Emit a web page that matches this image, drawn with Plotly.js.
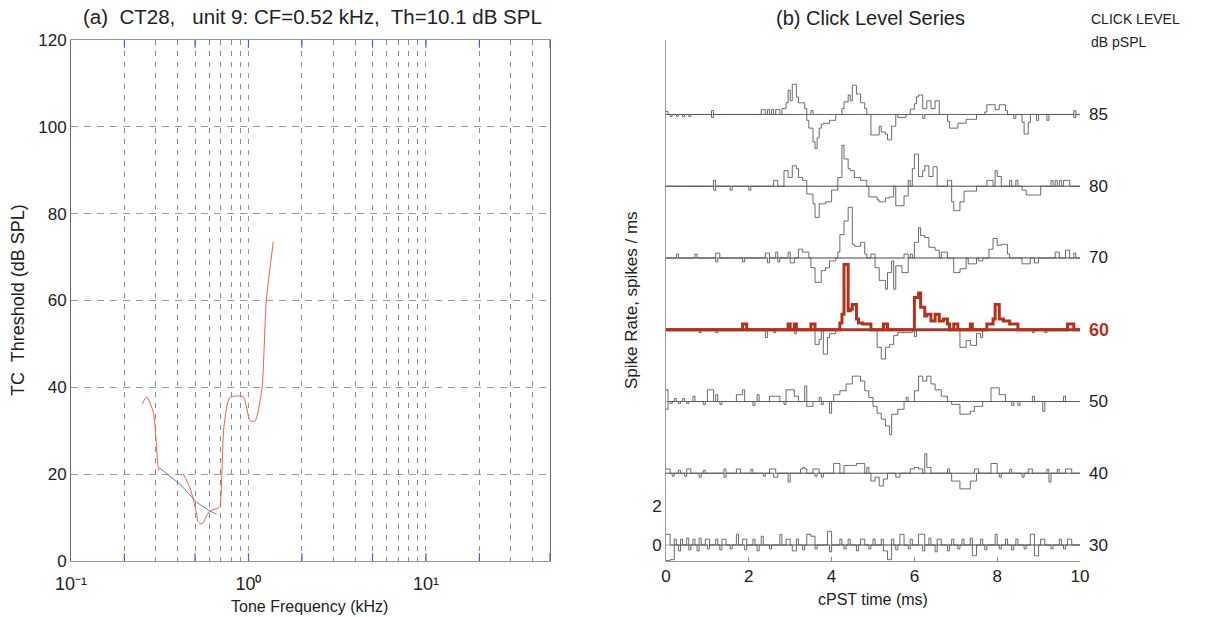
<!DOCTYPE html>
<html>
<head>
<meta charset="utf-8">
<script src="https://cdn.plot.ly/plotly-3.0.1.min.js"></script>
<style>html,body{margin:0;padding:0;background:#fff;}#chart{width:1216px;height:617px;}</style>
</head>
<body>
<div id="chart"></div>
<script>
// ---------- Panel (a): tuning curve ----------
const tcRedFreq1 = [0.252, 0.267, 0.291, 0.310, 0.314];
const tcRedDb1   = [36.2, 37.8, 34.2, 21.5, 20.8];
const tcRedFreq2 = [0.429, 0.468, 0.511, 0.518, 0.535, 0.556, 0.58, 0.606, 0.676, 0.69, 0.727, 0.786, 0.935, 1.02, 1.09, 1.19, 1.26, 1.38];
const tcRedDb2   = [20.1, 16.9, 10.8, 9.2, 8.6, 8.8, 10.4, 11.5, 12.2, 12.5, 30.8, 37.7, 37.8, 32.3, 32.3, 39.6, 60, 73.5];
const tcBlueFreq = [0.314, 0.411, 0.511, 0.606, 0.661];
const tcBlueDb   = [21.5, 17.7, 13.5, 11.5, 10.8];
const freqDecadeVals = [0.1, 1, 10];
const freqDecadeText = ['10\u207B\u00B9', '10\u2070', '10\u00B9'];
const freqMarkVals = [0.2, 0.5, 1, 2, 5, 10, 20, 50];
const dbTickVals = [0, 20, 40, 60, 80, 100, 120];

// ---------- Panel (b): click level series (segments: [t start ms, t end ms, spikes/ms]) ----------
const clickLevels = [30, 40, 50, 60, 70, 80, 85];
const timeTickVals = [0, 2, 4, 6, 8, 10];
const rateTickVals = [0, 2];

const up85 = [[0.0,0.05,0.15],[1.1,1.15,0.2],[2.3,2.4,0.25],[2.45,2.5,0.25],[2.55,2.6,0.25],[2.65,2.75,0.25],[2.8,2.9,0.3],
 [2.9,2.95,0.6],[2.95,3.0,1.25],[3.0,3.05,0.7],[3.05,3.15,1.55],[3.15,3.2,0.9],[3.2,3.35,0.6],[3.35,3.4,0.3],[3.5,3.55,0.2],
 [4.25,4.3,0.3],[4.3,4.4,0.65],[4.4,4.45,1.0],[4.45,4.5,0.7],[4.5,4.6,1.5],[4.6,4.7,1.05],[4.7,4.8,0.6],[4.8,4.85,0.3],
 [5.9,6.0,0.27],[6.0,6.05,0.55],[6.05,6.1,0.9],[6.1,6.2,1.0],[6.2,6.3,0.3],[6.3,6.4,0.7],[6.4,6.5,0.3],[6.5,6.6,0.7],
 [7.7,7.75,0.13],[7.75,7.95,0.5],[7.95,8.05,0.25],[8.05,8.2,0.5],[8.2,8.25,0.2],[9.85,9.9,0.2]];
const dn85 = [[0.1,0.15,0.1],[0.25,0.3,0.1],[0.4,0.45,0.1],[0.55,0.6,0.1],[1.1,1.15,0.15],
 [3.4,3.45,0.3],[3.45,3.55,0.7],[3.55,3.6,1.4],[3.6,3.65,1.75],[3.65,3.7,1.2],[3.7,3.75,0.7],[3.75,3.8,0.5],[3.8,3.95,0.45],[3.95,4.1,0.3],
 [4.95,5.15,1.05],[5.15,5.2,0.6],[5.2,5.3,0.9],[5.3,5.35,1.0],[5.35,5.45,1.3],[5.45,5.55,0.6],[5.6,5.8,0.15],[6.2,6.25,0.2],
 [6.8,6.85,0.35],[6.85,7.05,0.7],[7.05,7.25,0.45],[7.25,7.5,0.25],
 [8.4,8.45,0.2],[8.6,8.65,0.4],[8.65,8.75,1.0],[8.75,8.8,0.4],[8.95,9.0,0.3],[9.2,9.25,0.3],[9.85,9.9,0.15]];

const up80 = [[1.15,1.2,0.3],[2.6,2.7,0.3],[2.85,2.95,0.8],[2.95,3.05,0.45],[3.05,3.15,1.05],[3.15,3.2,0.9],[3.2,3.3,0.45],[3.3,3.4,0.3],
 [4.15,4.25,0.45],[4.25,4.3,2.1],[4.3,4.4,1.4],[4.4,4.45,0.9],[4.45,4.55,0.8],[4.55,4.7,0.45],[4.7,4.85,0.3],[5.85,5.9,0.3],
 [5.95,6.0,0.9],[6.0,6.1,1.65],[6.1,6.2,0.5],[6.2,6.25,0.8],[6.25,6.35,1.05],[6.35,6.45,0.5],[6.45,6.55,1.0],[6.8,6.9,0.3],
 [7.75,7.9,0.3],[7.95,8.0,0.8],[8.0,8.1,0.5],[8.3,8.35,0.3],[8.45,8.5,0.3],[9.3,9.35,0.3],[9.4,9.45,0.3],[9.5,9.55,0.3],[9.6,9.75,0.3]];
const dn80 = [[1.15,1.2,0.2],[1.55,1.6,0.2],[2.0,2.05,0.2],
 [3.4,3.55,0.4],[3.55,3.6,0.9],[3.6,3.7,1.6],[3.7,3.85,0.9],[3.85,4.0,0.8],[4.0,4.15,0.2],
 [4.9,5.1,0.55],[5.1,5.15,0.7],[5.15,5.3,0.8],[5.3,5.4,0.6],[5.4,5.5,0.55],[5.55,5.75,1.0],[5.75,5.85,0.5],
 [6.9,6.95,0.8],[6.95,7.1,1.25],[7.1,7.2,0.8],[7.2,7.5,0.25],[8.6,8.7,0.2],[8.7,9.05,0.45]];

const up70 = [[0.25,0.3,0.2],[0.7,0.75,0.2],[1.2,1.3,0.25],[2.4,2.5,0.25],[2.65,2.7,0.3],[2.95,3.0,0.3],[3.2,3.3,0.45],[3.3,3.45,0.3],
 [4.15,4.2,0.3],[4.2,4.3,1.2],[4.3,4.4,1.9],[4.4,4.5,2.6],[4.5,4.55,0.7],[4.55,4.7,0.6],[4.7,4.8,0.8],[4.8,4.85,0.2],[4.95,5.05,0.2],
 [5.75,5.85,0.2],[5.9,5.95,0.2],[6.0,6.1,0.8],[6.1,6.15,1.55],[6.15,6.25,1.15],[6.25,6.35,1.05],[6.35,6.5,0.55],[6.5,6.6,0.4],[6.65,6.8,0.3],
 [7.8,7.9,0.45],[7.9,8.0,1.0],[8.0,8.1,0.65],[8.1,8.25,0.7],[8.25,8.3,0.2],[9.4,9.5,0.3],[9.65,9.75,0.4],[9.85,9.9,0.25]];
const dn70 = [[1.2,1.25,0.2],[1.85,1.9,0.2],[2.45,2.5,0.25],[2.7,2.75,0.2],[3.0,3.1,0.25],
 [3.5,3.6,0.5],[3.6,3.75,1.25],[3.75,3.85,0.65],[3.85,3.95,0.5],[3.95,4.1,0.15],
 [5.05,5.15,0.5],[5.15,5.3,1.15],[5.3,5.35,1.6],[5.35,5.45,0.75],[5.45,5.5,0.15],[5.5,5.55,1.6],[5.55,5.7,0.4],[5.7,5.85,0.75],
 [6.95,7.1,0.75],[7.1,7.25,0.55],[7.3,7.5,0.3],[7.55,7.65,0.15],[8.6,8.8,0.3],[8.9,9.0,0.25]];

const up60 = [[1.85,1.95,0.3],[2.95,3.0,0.3],[3.1,3.15,0.3],[3.5,3.6,0.3],
 [4.2,4.25,0.35],[4.25,4.3,0.8],[4.3,4.4,3.35],[4.4,4.45,0.97],[4.45,4.5,1.05],[4.5,4.6,1.3],[4.6,4.65,0.55],[4.65,4.75,0.35],[4.75,4.95,0.3],
 [5.25,5.35,0.3],[6.0,6.1,1.65],[6.1,6.15,1.88],[6.15,6.25,1.15],[6.25,6.3,0.7],[6.3,6.4,0.8],[6.4,6.5,0.45],[6.5,6.6,0.8],[6.6,6.7,0.45],
 [6.7,6.8,0.55],[6.8,6.85,0.3],[6.95,7.05,0.3],[7.35,7.4,0.3],
 [7.75,7.9,0.3],[7.9,7.95,0.55],[7.95,8.05,1.3],[8.05,8.15,0.55],[8.15,8.3,0.45],[8.3,8.5,0.3],[9.7,9.85,0.3]];
const dn60 = [[0.8,0.85,0.15],[1.2,1.25,0.15],[2.4,2.45,0.4],[2.6,2.65,0.15],[3.1,3.15,0.2],
 [3.6,3.7,0.75],[3.7,3.75,0.5],[3.8,3.9,1.25],[3.9,3.95,0.4],[3.95,4.1,0.2],
 [5.1,5.2,0.9],[5.2,5.3,1.5],[5.3,5.4,0.9],[5.4,5.5,0.75],[5.5,5.6,0.3],[5.6,5.95,0.15],[6.0,6.05,0.35],
 [7.1,7.25,0.9],[7.25,7.35,0.55],[7.35,7.5,0.8],[7.5,7.6,0.2],[7.6,7.65,0.4],[8.85,8.9,0.15],[9.15,9.2,0.15]];

const up50 = [[0.0,0.05,0.6],[0.2,0.25,0.15],[0.4,0.45,0.15],[0.65,0.7,0.27],[1.0,1.15,0.6],[1.2,1.25,0.35],
 [1.7,1.85,0.35],[1.85,1.9,0.6],[2.2,2.25,0.35],[2.5,2.75,0.27],[2.9,3.1,0.6],[3.1,3.2,0.27],[3.35,3.4,0.8],[3.7,3.75,0.2],
 [4.05,4.2,0.35],[4.2,4.35,0.55],[4.35,4.5,0.9],[4.5,4.7,1.3],[4.7,4.8,1.05],[4.8,4.9,0.55],[4.9,5.0,0.2],[5.8,5.85,0.2],
 [6.0,6.1,0.55],[6.1,6.2,1.3],[6.2,6.3,1.05],[6.3,6.4,1.3],[6.4,6.5,0.9],[6.5,6.65,0.6],[6.65,6.8,0.27],
 [7.85,8.05,0.7],[8.05,8.2,0.35],[8.85,8.9,0.27],[9.6,9.65,0.27]];
const dn50 = [[0.0,0.05,0.4],[0.1,0.15,0.1],[0.3,0.35,0.1],[0.5,0.55,0.1],[0.9,0.95,0.15],[1.3,1.35,0.15],
 [2.1,2.15,0.2],[2.85,2.9,0.15],[3.4,3.55,0.25],[3.75,3.8,0.15],[3.95,4.0,0.6],
 [5.0,5.1,0.25],[5.1,5.2,0.6],[5.2,5.3,0.9],[5.3,5.4,1.25],[5.4,5.45,1.7],[5.45,5.6,0.65],[5.6,5.75,0.4],
 [6.9,7.1,0.15],[7.1,7.35,0.65],[7.35,7.45,0.5],[7.45,7.65,0.25],[8.35,8.4,0.2],[8.5,8.55,0.2],[9.1,9.15,0.5]];

const up40 = [[0.0,0.1,0.22],[0.3,0.35,0.15],[0.5,0.6,0.22],[0.9,0.95,0.15],[1.4,1.45,0.22],[1.7,1.8,0.22],[2.05,2.1,0.2],
 [2.5,2.65,0.22],[3.25,3.3,0.22],[3.3,3.35,0.3],[3.35,3.4,0.22],[3.55,3.7,0.22],
 [4.05,4.2,0.5],[4.3,4.6,0.4],[4.6,4.8,0.5],[4.85,4.9,0.3],
 [5.9,6.0,0.22],[6.0,6.1,0.3],[6.1,6.2,0.22],[6.25,6.3,1.0],[6.3,6.4,0.3],
 [6.8,6.85,0.22],[7.45,7.55,0.22],[7.85,8.0,0.5],[8.3,8.35,0.2],[8.75,8.85,0.22],[9.2,9.25,0.2],[9.45,9.5,0.2],[9.65,9.8,0.22]];
const dn40 = [[0.15,0.2,0.15],[0.45,0.5,0.15],[0.8,0.85,0.2],[1.4,1.45,0.2],[2.35,2.4,0.15],
 [2.6,2.7,0.2],[2.95,3.0,0.45],[3.6,3.65,0.15],[3.75,3.8,0.2],
 [4.95,5.05,0.4],[5.05,5.15,0.2],[5.15,5.25,0.65],[5.25,5.35,0.3],[5.55,5.65,0.2],
 [6.9,7.1,0.4],[7.1,7.35,0.8],[7.35,7.5,0.4],[8.05,8.1,0.2],[8.6,8.65,0.2],[9.25,9.3,0.45]];

const up30 = [[0.0,0.1,0.55],[0.2,0.25,0.3],[0.35,0.4,0.3],[0.5,0.55,0.35],[0.65,0.7,0.3],[0.8,0.85,0.35],[0.95,1.05,0.3],[1.2,1.25,0.3],[1.35,1.45,0.3],
 [1.7,1.75,0.55],[1.85,1.95,0.3],[2.1,2.15,0.3],[2.3,2.35,0.45],[2.75,2.8,0.55],[2.9,3.0,0.3],[3.15,3.2,0.3],[3.4,3.5,0.55],[3.5,3.6,0.45],
 [3.9,4.0,0.7],[4.2,4.25,0.3],[4.4,4.45,0.3],[4.7,4.8,0.3],[5.0,5.05,0.3],[5.2,5.25,0.3],[5.45,5.5,0.3],[5.65,5.75,0.55],[5.9,5.95,0.3],
 [6.1,6.25,0.55],[6.35,6.4,0.35],[6.55,6.65,0.3],[6.9,6.95,0.3],[7.15,7.2,0.3],[7.35,7.4,0.35],[7.6,7.65,0.3],[7.95,8.0,0.55],[8.2,8.25,0.3],
 [8.45,8.5,0.3],[8.8,8.9,0.55],[9.05,9.15,0.3],[9.5,9.55,0.3],[9.7,9.8,0.3]];
const dn30 = [[0.0,0.1,0.8],[0.1,0.2,0.75],[0.3,0.35,0.3],[0.55,0.6,0.25],[0.75,0.8,0.3],[1.0,1.05,0.2],[1.3,1.35,0.25],[1.55,1.6,0.2],[1.9,1.95,0.25],
 [2.2,2.25,0.3],[2.5,2.55,0.2],[3.05,3.15,0.3],[3.3,3.35,0.25],[3.6,3.65,0.2],[3.95,4.0,0.35],[4.3,4.35,0.2],[4.6,4.65,0.3],[4.9,4.95,0.2],
 [5.25,5.35,0.3],[5.35,5.45,0.75],[5.55,5.6,0.25],[5.85,5.9,0.2],[6.2,6.25,0.3],[6.5,6.55,0.35],[6.8,6.85,0.3],[7.05,7.1,0.2],[7.4,7.5,0.55],
 [7.7,7.75,0.25],[8.05,8.1,0.2],[8.35,8.4,0.25],[8.65,8.7,0.2],[8.9,9.0,0.55],[9.3,9.35,0.2],[9.6,9.65,0.2]];

const upByLevel = {30: up30, 40: up40, 50: up50, 60: up60, 70: up70, 80: up80, 85: up85};
const dnByLevel = {30: dn30, 40: dn40, 50: dn50, 60: dn60, 70: dn70, 80: dn80, 85: dn85};

// ---------- build ----------
const FONT = 'Liberation Sans, Arial, Helvetica, sans-serif';
const BIN = 0.05, NB = 200, SPACING = 3.68;
const RED = '#b3321c', GRAY = '#5a5a5a', TICKBLUE = '#3f5fe0';

function binned(segs) {
  const a = new Array(NB).fill(0);
  segs.forEach(([t0, t1, v]) => {
    for (let i = Math.round(t0 / BIN); i < Math.round(t1 / BIN); i++) if (i >= 0 && i < NB) a[i] = v;
  });
  return a;
}
function stepXY(segs, base, sign) {
  const a = binned(segs);
  const x = [], y = [];
  for (let i = 0; i <= NB; i++) { x.push(+(i * BIN).toFixed(3)); y.push(base + sign * (i < NB ? a[i] : 0)); }
  return {x, y};
}

const traces = [];
// blue frequency marks along the bottom and top frame (half clipped -> inward ticks)
const dbEnds = [dbTickVals[0], dbTickVals[dbTickVals.length - 1]];
dbEnds.forEach(yv => {
  traces.push({x: freqMarkVals, y: freqMarkVals.map(() => yv), xaxis: 'x', yaxis: 'y', mode: 'markers', cliponaxis: true,
    marker: {symbol: 'line-ns', size: 11, line: {color: TICKBLUE, width: 1.2}}, hoverinfo: 'skip'});
});
// tuning curve
traces.push({x: tcBlueFreq, y: tcBlueDb, xaxis: 'x', yaxis: 'y', mode: 'lines', line: {color: '#6a78dc', width: 1}, hoverinfo: 'skip'});
traces.push({x: tcRedFreq1.concat([null], tcRedFreq2), y: tcRedDb1.concat([null], tcRedDb2), xaxis: 'x', yaxis: 'y', mode: 'lines',
  connectgaps: false, line: {color: '#f0604a', width: 1, shape: 'spline', smoothing: 0.6}, hoverinfo: 'skip'});

// click series
const annotations = [];
clickLevels.forEach((lev, k) => {
  const base = k * SPACING;
  const isRed = lev === 60;
  traces.push({x: [0, 10], y: [base, base], xaxis: 'x2', yaxis: 'y2', mode: 'lines',
    line: {color: isRed ? RED : '#9a9a9a', width: isRed ? 3 : 0.8}, hoverinfo: 'skip'});
  const d = stepXY(dnByLevel[lev], base, -1);
  traces.push({x: d.x, y: d.y, xaxis: 'x2', yaxis: 'y2', mode: 'lines', line: {color: GRAY, width: 0.9, shape: 'hv'}, hoverinfo: 'skip'});
  const u = stepXY(upByLevel[lev], base, 1);
  traces.push({x: u.x, y: u.y, xaxis: 'x2', yaxis: 'y2', mode: 'lines',
    line: {color: isRed ? RED : GRAY, width: isRed ? 3 : 0.9, shape: 'hv'}, hoverinfo: 'skip'});
  annotations.push({xref: 'paper', yref: 'y2', x: 1087 / 1216, y: base, xanchor: 'left', yanchor: 'middle', showarrow: false,
    text: String(lev), font: {family: FONT, size: isRed ? 18 : 17, color: isRed ? RED : '#222', weight: isRed ? 'bold' : 'normal'}});
});

const P = (px) => px / 1216, Q = (py) => 1 - py / 617;
annotations.push(
  {xref: 'paper', yref: 'paper', x: P(312), y: Q(17), text: '(a)  CT28,   unit 9: CF=0.52 kHz,  Th=10.1 dB SPL', showarrow: false, xanchor: 'center', yanchor: 'middle', font: {family: FONT, size: 20.5, color: '#222'}},
  {xref: 'paper', yref: 'paper', x: P(310), y: Q(606), text: 'Tone Frequency (kHz)', showarrow: false, xanchor: 'center', yanchor: 'middle', font: {family: FONT, size: 16, color: '#222'}},
  {xref: 'paper', yref: 'paper', x: P(18), y: Q(300), text: 'TC  Threshold (dB SPL)', textangle: -90, showarrow: false, xanchor: 'center', yanchor: 'middle', font: {family: FONT, size: 18, color: '#222'}},
  {xref: 'paper', yref: 'paper', x: P(870), y: Q(18), text: '(b) Click Level Series', showarrow: false, xanchor: 'center', yanchor: 'middle', font: {family: FONT, size: 20, color: '#222'}},
  {xref: 'paper', yref: 'paper', x: P(1089), y: Q(19), text: 'CLICK LEVEL', showarrow: false, xanchor: 'left', yanchor: 'middle', font: {family: FONT, size: 14, color: '#222'}},
  {xref: 'paper', yref: 'paper', x: P(1089), y: Q(42), text: 'dB pSPL', showarrow: false, xanchor: 'left', yanchor: 'middle', font: {family: FONT, size: 14, color: '#222'}},
  {xref: 'paper', yref: 'paper', x: P(873), y: Q(599), text: 'cPST time (ms)', showarrow: false, xanchor: 'center', yanchor: 'middle', font: {family: FONT, size: 16, color: '#222'}},
  {xref: 'paper', yref: 'paper', x: P(631), y: Q(300), text: 'Spike Rate, spikes / ms', textangle: -90, showarrow: false, xanchor: 'center', yanchor: 'middle', font: {family: FONT, size: 17, color: '#222'}}
);

const layout = {
  width: 1216, height: 617, margin: {l: 0, r: 0, t: 0, b: 0}, paper_bgcolor: '#fff', plot_bgcolor: '#fff',
  showlegend: false, font: {family: FONT, size: 17, color: '#222'},
  xaxis: {type: 'log', domain: [P(71), P(550)], range: [-1, Math.log10(50)], anchor: 'y',
    tickmode: 'array', tickvals: freqDecadeVals, ticktext: freqDecadeText, ticks: '', ticklabelstandoff: 6,
    showline: true, linecolor: '#8c96b4', mirror: true, showgrid: true, gridcolor: '#9a9a9a', griddash: '5px,6px', gridwidth: 1,
    minor: {dtick: 'D1', showgrid: true, gridcolor: '#8a8a8a', griddash: '5px,6px', gridwidth: 1, ticks: ''},
    tickfont: {size: 18}, zeroline: false},
  yaxis: {domain: [Q(561), Q(40)], range: [0, 120], anchor: 'x', tickmode: 'array', tickvals: dbTickVals,
    showline: true, linecolor: '#666', mirror: true, showgrid: true, gridcolor: '#9a9a9a', griddash: '7px,6px', gridwidth: 1,
    ticks: '', tickfont: {size: 17}, zeroline: false},
  xaxis2: {domain: [P(666), P(1080)], range: [0, 10], anchor: 'y2', tickmode: 'array', tickvals: timeTickVals,
    ticks: 'inside', ticklen: 4, tickcolor: '#888', showline: true, linecolor: '#999', showgrid: false, zeroline: false, tickfont: {size: 17}},
  yaxis2: {domain: [Q(561), Q(40)], range: [-0.82, 25.9], anchor: 'x2', tickmode: 'array', tickvals: rateTickVals,
    ticks: '', showline: true, linecolor: '#999', showgrid: false, zeroline: false, tickfont: {size: 17}},
  annotations: annotations
};

Plotly.newPlot('chart', traces, layout, {staticPlot: true, displayModeBar: false});
</script>
</body>
</html>
